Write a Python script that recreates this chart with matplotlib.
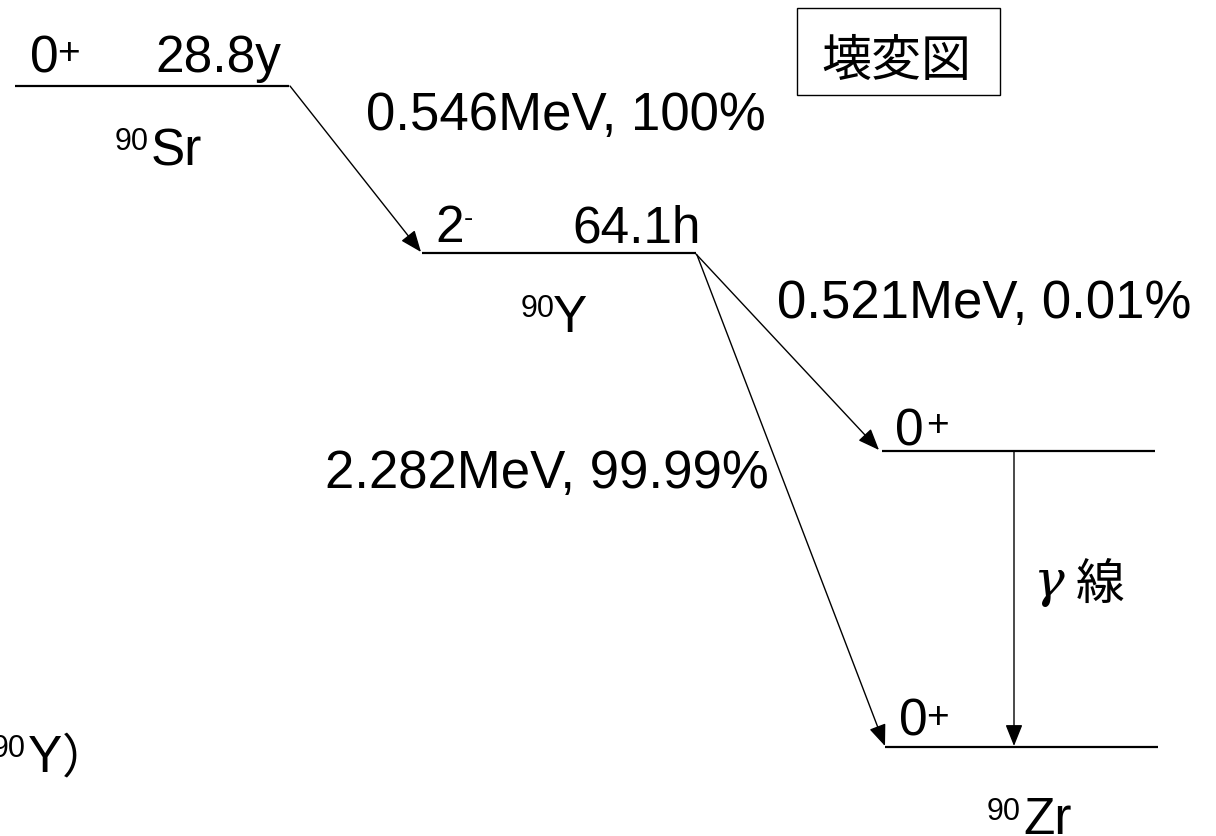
import matplotlib
matplotlib.use("Agg")
import matplotlib.pyplot as plt
from matplotlib.patches import Rectangle

# ---- data (decay scheme content) ----
nuclides = ["Sr", "Y", "Zr"]
mass_number = "90"
spins = ["0", "2", "0", "0"]
parities = ["+", "-", "+", "+"]
half_lives = ["28.8y", "64.1h"]
beta_labels = ["0.546MeV, 100%", "0.521MeV, 0.01%", "2.282MeV, 99.99%"]
title_text = "壊変図"
gamma_symbol = "γ"
gamma_word = "線"

# ---- layout (pixel space) ----
W, H = 1216, 837
fig = plt.figure(figsize=(W / 100, H / 100), dpi=100)
ax = fig.add_axes([0, 0, 1, 1])
ax.set_xlim(0, W)
ax.set_ylim(H, 0)
ax.axis("off")

SANS = "Liberation Sans"
CJK = ["Noto Sans CJK JP", "DejaVu Sans"]
BIG = 37
SMALL = 22

def txt(x, y, s, size=BIG, family=SANS, **kw):
    ax.text(x, y, s, fontsize=size, family=family, ha="left", va="baseline", color="black", **kw)

# level lines: (x0, x1, y)
levels = [(15, 289, 87), (422, 696, 254), (882, 1155, 452), (885, 1158, 748)]
for x0, x1, y in levels:
    ax.plot([x0, x1], [y, y], color="black", lw=1.6, solid_capstyle="butt")

def arrow(p0, p1, ms=24):
    ax.annotate("", xy=p1, xytext=p0,
                arrowprops=dict(arrowstyle="-|>,head_length=0.55,head_width=0.22",
                                color="black", lw=1.0, mutation_scale=ms,
                                shrinkA=0, shrinkB=0))

arrow((290, 87), (421, 253))
arrow((696, 255), (879, 451))
arrow((697, 256), (885, 747))
arrow((1014, 452), (1014, 747))

# spin / parity labels: (spin x, spin baseline, parity x, parity baseline, parity size)
spin_pos = [(30, 72, 57, 64, 28), (435, 242, 464, 226, 20),
            (895, 445, 926, 436, 28), (899, 736, 926, 728, 28)]
for (x, y, px, py, ps), s, p in zip(spin_pos, spins, parities):
    txt(x, y, s)
    txt(px, py, p, size=ps)

# half-lives
txt(155, 72, half_lives[0])
txt(572, 242, half_lives[1])

# nuclide names
nuc_pos = [(115, 150, 151, 165), (521, 317, 553, 332), (987, 820, 1023, 834)]
for (mx, my, nx, ny), n in zip(nuc_pos, nuclides):
    txt(mx, my, mass_number, size=SMALL)
    txt(nx, ny, n)

# beta branch labels
txt(366, 130, beta_labels[0], size=38)
txt(777, 318, beta_labels[1], size=38)
txt(325, 488, beta_labels[2], size=38)

# gamma label
ax.text(1033, 596, gamma_symbol, fontsize=BIG, family="DejaVu Serif", style="italic",
        ha="left", va="baseline")
txt(1076, 599, gamma_word, size=35, family=CJK)

# title box
ax.add_patch(Rectangle((797, 9), 203, 87, fill=False, ec="black", lw=1.0))
txt(821, 76, title_text, size=36, family=CJK)

# clipped fragment at bottom-left
ax.text(26, 757, mass_number, fontsize=SMALL, family=SANS, ha="right", va="baseline")
txt(28, 772, nuclides[1])
txt(62, 772, "）", family=CJK, size=34)

fig.savefig("out.png", dpi=100)
